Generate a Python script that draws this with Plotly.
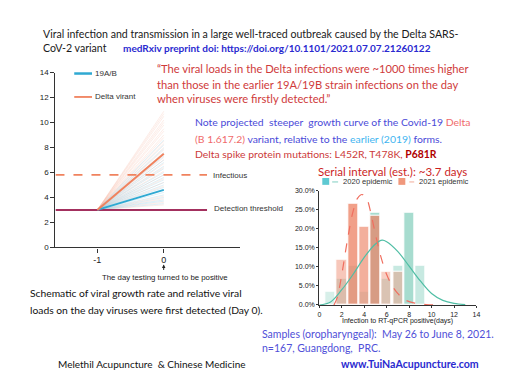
import plotly.graph_objects as go

W, H = 512, 384

# ---------------- data: left schematic ----------------
days = [-1, 0]
start_load = 3.0
early_main_day0 = 4.6          # 19A/B
delta_main_day0 = 7.5          # Delta variant
delta_fan_day0 = [10.9, 10.7, 10.5, 10.2, 10.0, 9.8, 9.5, 9.3, 9.0, 8.8, 8.5, 8.3,
                  8.0, 7.8, 7.2, 7.0, 6.7, 6.4, 6.1, 5.8, 5.5, 5.2, 4.9, 4.1, 3.9,
                  3.6, 3.4]
early_fan_day0 = [8.6, 8.2, 7.9, 7.6, 7.3, 7.0, 6.8, 6.5, 6.3, 6.0, 5.8, 5.6, 5.4,
                  5.2, 5.0, 4.8, 4.4, 4.2, 4.0, 3.8, 3.7, 3.5]
infectious_level = 5.8
detection_level = 3.0
ref_line_x = [-1.63, 0.65]
left_yticks = [0, 2, 4, 6, 8, 10, 12, 14]

# ---------------- data: serial interval histogram ----------------
si_days_2020 = [1, 2, 3, 4, 5, 6, 7, 8, 9]
si_pct_2020 = [3.4, 6.9, 10.3, 3.4, 24.1, 6.9, 10.3, 24.1, 10.3]
si_days_2021 = [2, 3, 4, 5, 6, 7]
si_pct_2021 = [11.8, 26.5, 20.6, 23.5, 8.8, 8.8]
fit_x_2020 = [0, 1, 2, 3, 4, 5, 5.6, 6, 7, 8, 9, 10, 11, 12, 13]
fit_y_2020 = [0, 0.8, 4.0, 8.0, 12.5, 16.0, 17.0, 16.6, 14.0, 10.2, 6.3, 3.0, 1.2, 0.4, 0.1]
fit_x_2021 = [1.3, 1.6, 2.0, 2.5, 3.0, 3.4, 3.8, 4.2, 4.6, 5.0, 5.5, 6.0, 6.5, 7.0, 7.6, 8.5, 9.5, 10.2]
fit_y_2021 = [0, 2.0, 8.0, 17.0, 24.5, 28.0, 29.0, 28.0, 24.0, 18.5, 12.5, 8.0, 5.0, 3.0, 1.4, 0.5, 0.1, 0]
hist_xticks = [0, 2, 4, 6, 8, 10, 12, 14]
hist_yticks = [0, 5, 10, 15, 20, 25, 30]


def px(x):
    return x / W


def py(y):
    return 1 - y / H


BLUE = "#2fa9d2"
ORANGE = "#f0825e"
MAROON = "#a3305e"
AX = "#333333"
CAL = "Lato, 'Noto Sans', sans-serif"
ARI = "'Liberation Sans', Arial, sans-serif"

fig = go.Figure()

# fan lines (faint)
fx, fy = [], []
for v in delta_fan_day0:
    fx += days + [None]
    fy += [start_load, v, None]
fig.add_trace(go.Scatter(x=fx, y=fy, mode="lines", line=dict(color="rgba(246,165,140,0.2)", width=1),
                         hoverinfo="skip", showlegend=False))
bx, by = [], []
for v in early_fan_day0:
    bx += days + [None]
    by += [start_load, v, None]
fig.add_trace(go.Scatter(x=bx, y=by, mode="lines", line=dict(color="rgba(150,205,230,0.3)", width=1),
                         hoverinfo="skip", showlegend=False))

# reference lines
fig.add_trace(go.Scatter(x=ref_line_x, y=[infectious_level] * 2, mode="lines",
                         line=dict(color=ORANGE, width=1.8, dash="dash"), showlegend=False))
fig.add_trace(go.Scatter(x=ref_line_x, y=[detection_level] * 2, mode="lines",
                         line=dict(color=MAROON, width=2), showlegend=False))
# main lines
fig.add_trace(go.Scatter(x=days, y=[start_load, early_main_day0], mode="lines",
                         line=dict(color=BLUE, width=2), showlegend=False))
fig.add_trace(go.Scatter(x=days, y=[start_load, delta_main_day0], mode="lines",
                         line=dict(color=ORANGE, width=2), showlegend=False))

# histogram bars
mx20 = max(si_pct_2020)
mx21 = max(si_pct_2021)
fig.add_trace(go.Bar(x=si_days_2020, y=si_pct_2020, width=0.9, xaxis="x2", yaxis="y2",
                     marker=dict(color=[f"rgba(95,192,168,{0.2 + 0.35 * v / mx20:.2f})" for v in si_pct_2020],
                                 line=dict(color="white", width=1)), showlegend=False))
fig.add_trace(go.Bar(x=si_days_2021, y=si_pct_2021, width=0.9, xaxis="x2", yaxis="y2",
                     marker=dict(color=[f"rgba(236,128,98,{0.2 + 0.55 * v / mx21:.2f})" for v in si_pct_2021],
                                 line=dict(color="white", width=1)), showlegend=False))
fig.add_trace(go.Scatter(x=fit_x_2020, y=fit_y_2020, mode="lines", xaxis="x2", yaxis="y2",
                         line=dict(color="rgb(80,190,165)", width=1.2, shape="spline"), showlegend=False))
fig.add_trace(go.Scatter(x=fit_x_2021, y=fit_y_2021, mode="lines", xaxis="x2", yaxis="y2",
                         line=dict(color="rgb(240,110,95)", width=1.2, dash="dash", shape="spline"),
                         showlegend=False))

ann = []


def text(x, y, t, size, color="black", font=CAL, xanchor="left", yanchor="middle", xref="paper", yref="paper"):
    ann.append(dict(x=px(x) if xref == "paper" else x, y=py(y) if yref == "paper" else y,
                    xref=xref, yref=yref, text=t, showarrow=False, xanchor=xanchor, yanchor=yanchor,
                    font=dict(size=size, color=color, family=font)))


# title
text(31, 23, "Viral infection and transmission in a large well-traced outbreak caused by the Delta SARS-", 10.6,
     "#1a1a1a")
text(31, 37, "CoV-2 variant", 10.6, "#1a1a1a")
text(112, 37, "<b>medRxiv preprint doi: https://doi.org/10.1101/2021.07.07.21260122</b>", 10, "#2a2ad0")
# quote
qc = "#cf3b3b"
text(147, 58, "“The viral loads in the Delta infections were ~1000 times higher", 11.2, qc)
text(147, 74, "than those in the earlier 19A/19B strain infections on the day", 11.2, qc)
text(147, 89, "when viruses were firstly detected.”", 11.2, qc)
# note
nb = "#4a4ad8"
text(185, 113, f"<span style='color:{nb}'>Note projected  steeper  growth curve of the Covid-19 </span>"
               "<span style='color:#f06a6a'>Delta</span>", 10.4)
text(185, 130, "<span style='color:#f06a6a'>(B 1.617.2)</span>"
               f"<span style='color:{nb}'> variant, relative to the </span>"
               "<span style='color:#3db4f0'>earlier (2019)</span>"
               f"<span style='color:{nb}'> forms.</span>", 10.4)
text(185, 145, "<span style='color:#cc3a3a'>Delta spike protein mutations: L452R, T478K, </span>"
               "<span style='color:#b00000'><b>P681R</b></span>", 10.4)
# schematic caption
text(18, 288, "Schematic of viral growth rate and relative viral", 10.3, "#111111")
text(18, 305, "loads on the day viruses were first detected (Day 0).", 10.3, "#111111")
# samples
text(253, 330, "Samples (oropharyngeal):  May 26 to June 8, 2021.", 10.5, "#5050d8")
text(253, 344, "n=167, Guangdong,  PRC.", 10.5, "#5050d8")
# footer
text(47, 360, "Melethil Acupuncture  & Chinese Medicine", 10, "#111111")
text(333, 360, "<b>www.TuiNaAcupuncture.com</b>", 10.6, "#2a2ad0")

# left chart labels
text(203, 167, "Infectious", 8, "#333333", ARI)
text(204, 201, "Detection threshold", 8, "#333333", ARI)
ann.append(dict(x=px(155.5), y=py(258.5), xref="paper", yref="paper", text="", showarrow=True,
                ax=0, ay=7, arrowhead=2, arrowsize=0.7, arrowwidth=1, arrowcolor="#222222"))
text(157, 271.5, "The day testing turned to be positive", 7.8, "#222222", ARI, xanchor="center")
# left legend
ann_legend = [(63, "19A/B", BLUE), (87, "Delta virant", ORANGE)]
shapes = []
for yy, lab, col in ann_legend:
    shapes.append(dict(type="line", xref="paper", yref="paper", x0=px(65), x1=px(83), y0=py(yy), y1=py(yy),
                       line=dict(color=col, width=2.5 if col == BLUE else 1.8)))
    text(84, yy, lab, 8, "#333333", ARI)

# histogram title & legend
text(387, 163, "Serial interval (est.): ~3.7 days", 11.5, "#cc1f1f", xanchor="center")
shapes.append(dict(type="rect", xref="paper", yref="paper", x0=px(316), x1=px(323), y0=py(170), y1=py(177),
                   fillcolor="#5ec9d2", line=dict(width=0)))
shapes.append(dict(type="line", xref="paper", yref="paper", x0=px(326), x1=px(332), y0=py(174), y1=py(174),
                   line=dict(color="#aadfd6", width=1.5)))
text(335, 174, "2020 epidemic", 7.6, "#333333", ARI)
shapes.append(dict(type="rect", xref="paper", yref="paper", x0=px(393), x1=px(400), y0=py(170), y1=py(177),
                   fillcolor="#f0987c", line=dict(width=0)))
shapes.append(dict(type="line", xref="paper", yref="paper", x0=px(404), x1=px(409), y0=py(174), y1=py(174),
                   line=dict(color="#f6c7bb", width=1.5)))
text(412, 174, "2021 epidemic", 7.6, "#333333", ARI)
text(392.5, 316, "Infection to RT-qPCR positive(days)", 7, "#222222", ARI, xanchor="center")

axis_common = dict(showline=True, linecolor=AX, linewidth=1.3, ticks="outside", tickcolor=AX, ticklen=4,
                   showgrid=False, zeroline=False, tickfont=dict(size=8, color="#222222", family=ARI))
small = dict(size=7, color="#222222", family=ARI)

fig.update_layout(
    width=W, height=H, margin=dict(l=0, r=0, t=0, b=0),
    paper_bgcolor="white", plot_bgcolor="rgba(0,0,0,0)",
    barmode="overlay", bargap=0,
    xaxis=dict(domain=[px(46), px(233)], range=[-1.63, 1.15], tickvals=days, ticktext=["-1", "0"],
               anchor="y", **{**axis_common, "tickfont": dict(size=9, color="#222222", family=ARI)}),
    yaxis=dict(domain=[py(241), py(62)], range=[0, 14], tickvals=left_yticks, anchor="x", **axis_common),
    xaxis2=dict(domain=[px(313), px(472)], range=[0, 14], tickvals=hist_xticks,
                ticktext=[str(v) for v in hist_xticks], anchor="y2",
                **{**axis_common, "tickfont": small, "ticklen": 2}),
    yaxis2=dict(domain=[py(300), py(183)], range=[0, 30], tickvals=hist_yticks,
                ticktext=[f"{v:.1f}%" for v in hist_yticks], anchor="x2",
                **{**axis_common, "tickfont": small, "ticklen": 2}),
    annotations=ann, shapes=shapes,
)

fig.write_html("out.html")
